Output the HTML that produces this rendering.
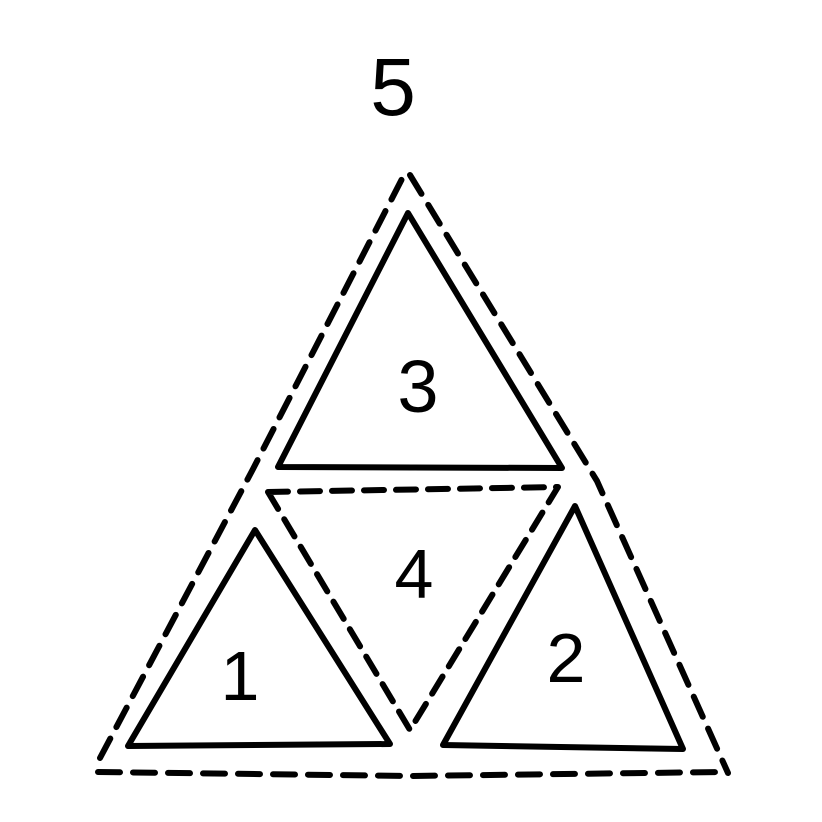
<!DOCTYPE html>
<html><head><meta charset="utf-8"><style>
html,body{margin:0;padding:0;background:#fff;}
svg{display:block;}
text{font-family:"Liberation Sans",sans-serif;fill:#000;}
</style></head><body>
<svg width="822" height="822" viewBox="0 0 822 822">
<rect width="822" height="822" fill="#fff"/>
<g fill="none" stroke="#000" stroke-width="6" stroke-linejoin="round" stroke-linecap="round">
<polyline points="100,758 253,469 404,175" stroke-dasharray="22,13"/>
<polyline points="410,175 597,481 728,773" stroke-dasharray="22,13"/>
<polyline points="98,772 410,776 722,772" stroke-dasharray="22,13"/>
<polygon points="268,492 558,487 410,730" stroke-dasharray="20,12"/>
<polygon points="408,213 278,467 562,468"/>
<polygon points="255,530 128,746 390,744"/>
<polygon points="575,506 443,745 683,749"/>
</g>
<text x="393" y="115" font-size="82" text-anchor="middle">5</text>
<text x="418" y="412" font-size="74" text-anchor="middle">3</text>
<text x="414" y="598" font-size="70" text-anchor="middle">4</text>
<text x="240" y="700" font-size="70" text-anchor="middle">1</text>
<text x="566" y="682" font-size="70" text-anchor="middle">2</text>
</svg>
</body></html>
